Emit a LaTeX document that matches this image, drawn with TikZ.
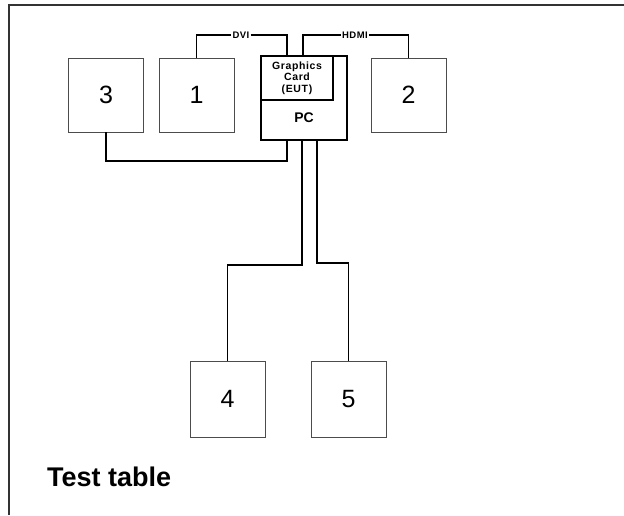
\documentclass[tikz,border=0pt]{standalone}
\usepackage{fontspec}
\setmainfont{Liberation Sans}
\begin{document}
\begin{tikzpicture}[x=1pt,y=-1pt]
      \tikzset { monitor/.style = { shape=rectangle,draw=black!70,line width=0.8pt,minimum width=75pt,minimum height=74pt,inner sep=0pt,font=\fontsize{25}{30}\selectfont } }
      \tikzset { unit/.style = { shape=rectangle,draw,line width=1.6pt,inner sep=0pt } }
      \tikzset { cable/.style = { line width=1.6pt } }
      \tikzset { tag/.style = { fill=white,inner sep=1pt,font=\bfseries\fontsize{9.5}{10}\selectfont\addfontfeature{LetterSpace=5} } }

      \useasboundingbox (0,0) rectangle (624,515);
      \draw[line width=1.2pt,black!80] (624,5) -- (9,5) -- (9,515);

      \node[monitor] (m3) at (106,95) {3};
      \node[monitor] (m1) at (196.5,95) {1};
      \node[monitor] (m2) at (408.5,95) {2};
      \node[monitor,minimum height=76pt] (m4) at (227.5,399) {4};
      \node[monitor,minimum height=76pt] (m5) at (348.5,399) {5};

      \node[unit,minimum width=86pt,minimum height=84pt] (pc) at (304,98) {};
      \node[unit,minimum width=72pt,minimum height=44pt,align=center,font=\bfseries\fontsize{10.5}{11.5}\selectfont\addfontfeature{LetterSpace=6}] (gc) at (297,78) {Graphics\\Card\\(EUT)};
      \node[font=\bfseries\fontsize{14}{16}\selectfont] (pclbl) at (304,118) {PC};

      \node[tag] (dvi) at (241,35) {DVI};
      \node[tag] (hdmi) at (355,35) {HDMI};
      \node[anchor=base west,inner sep=0pt,font=\bfseries\fontsize{27}{30}\selectfont] (table) at (47,486) {Test table};

      \coordinate (gca) at (287,56);
      \coordinate (gcb) at (303,56);
      \coordinate (pc3) at (287,140);
      \coordinate (pc4) at (302,140);
      \coordinate (pc5) at (317,140);
      \coordinate (j3) at (287,161);
      \coordinate (j4) at (302,265);
      \coordinate (j5) at (317,263);

      \draw[cable] (m1.north) |- (dvi.west);
      \draw[cable] (dvi.east) -| (gca);
      \draw[cable] (gcb) |- (hdmi.west);
      \draw[cable] (hdmi.east) -| (m2.north);
      \draw[cable] (m3.south) |- (j3) -- (pc3);
      \draw[cable] (pc4) -- (j4) -| (m4.north);
      \draw[cable] (pc5) -- (j5) -| (m5.north);

    \end{tikzpicture}
\end{document}
